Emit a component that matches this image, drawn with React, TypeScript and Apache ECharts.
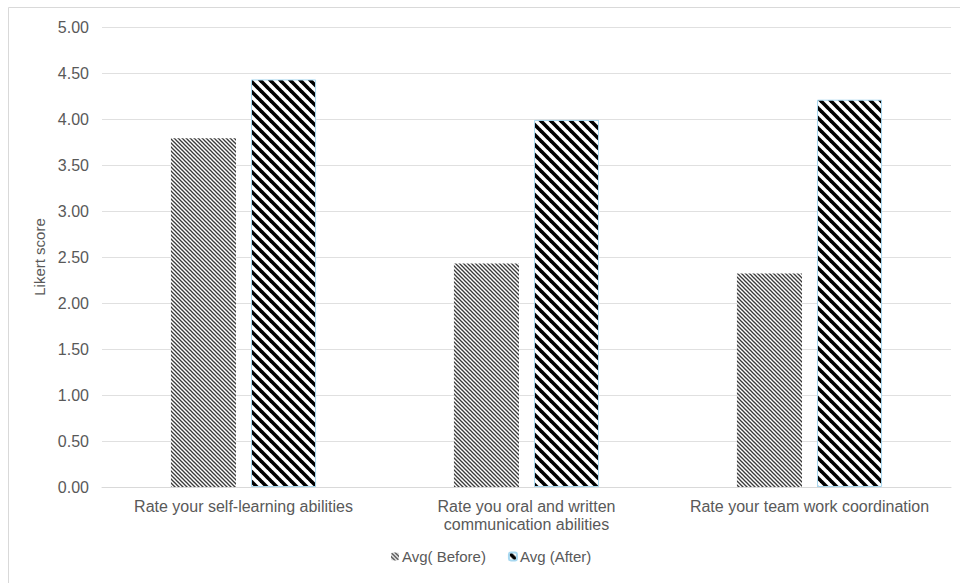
import React, { useEffect, useRef } from 'react';
import * as echarts from 'echarts';

const categories = [
  'Rate your self-learning abilities',
  'Rate you oral and written\ncommunication abilities',
  'Rate your team work coordination',
];
const seriesNames = ['Avg( Before)', 'Avg (After)'];
const beforeValues = [3.79, 2.43, 2.32];
const afterValues = [4.43, 3.99, 4.21];
const yMin = 0;
const yMax = 5;
const yInterval = 0.5;

const FONT = '"Liberation Sans", Arial, sans-serif';
const TEXT = '#595959';
const FS = 16;

function makeStripes(size: number, lineWidth: number, color: string, bg: string) {
  const c = document.createElement('canvas');
  c.width = size;
  c.height = size;
  const ctx = c.getContext('2d')!;
  ctx.fillStyle = bg;
  ctx.fillRect(0, 0, size, size);
  ctx.strokeStyle = color;
  ctx.lineWidth = lineWidth;
  for (const k of [-size, 0, size]) {
    ctx.beginPath();
    ctx.moveTo(k - 1, -1);
    ctx.lineTo(k + size + 1, size + 1);
    ctx.stroke();
  }
  return { image: c, repeat: 'repeat', imageWidth: size, imageHeight: size } as any;
}

export default function App() {
  const ref = useRef<HTMLDivElement>(null);
  useEffect(() => {
    if (!ref.current) return;
    const chart = echarts.init(ref.current, null, { renderer: 'svg' });
    const beforePattern = makeStripes(4, 1.3, '#3a3a3a', '#ffffff');
    const afterPattern = makeStripes(10, 3.6, '#000000', '#ffffff');
    chart.setOption({
      animation: false,
      backgroundColor: '#ffffff',
      textStyle: { fontFamily: FONT },
      graphic: [
        {
          type: 'rect',
          shape: { x: 8.5, y: 7.5, width: 1200, height: 1200 },
          style: { fill: 'none', stroke: '#d9d9d9', lineWidth: 1 },
          silent: true,
        },
      ],
      grid: { left: 102, right: 9, top: 27, bottom: 96, containLabel: false },
      legend: {
        bottom: 14,
        left: 386,
        itemWidth: 8,
        itemHeight: 8,
        itemGap: 22,
        textStyle: { color: TEXT, fontSize: 15, fontFamily: FONT, padding: [0, 0, 0, -2] },
        data: seriesNames,
      },
      xAxis: {
        type: 'category',
        data: categories,
        axisLine: { show: true, lineStyle: { color: '#d9d9d9', width: 1 } },
        axisTick: { show: false },
        axisLabel: {
          interval: 0,
          color: TEXT,
          fontSize: FS,
          fontFamily: FONT,
          margin: 10,
          lineHeight: 18,
        },
      },
      yAxis: {
        type: 'value',
        min: yMin,
        max: yMax,
        interval: yInterval,
        name: 'Likert score',
        nameLocation: 'middle',
        nameGap: 52,
        nameTextStyle: { color: TEXT, fontSize: 15, fontFamily: FONT },
        axisLine: { show: false },
        axisTick: { show: false },
        axisLabel: {
          color: TEXT,
          fontSize: FS,
          fontFamily: FONT,
          margin: 13,
          formatter: (v: number) => v.toFixed(2),
        },
        splitLine: { lineStyle: { color: '#e0e0e0', width: 1 } },
      },
      series: [
        {
          name: seriesNames[0],
          type: 'bar',
          data: beforeValues,
          barWidth: '23%',
          barGap: '23%',
          itemStyle: { color: beforePattern },
        },
        {
          name: seriesNames[1],
          type: 'bar',
          data: afterValues,
          barWidth: '23%',
          itemStyle: { color: afterPattern, borderColor: '#a8d8f0', borderWidth: 1 },
        },
      ],
    });
    return () => chart.dispose();
  }, []);
  return (
    <div
      ref={ref}
      style={{ position: 'absolute', left: 0, top: 0, width: 960, height: 583 }}
    />
  );
}
